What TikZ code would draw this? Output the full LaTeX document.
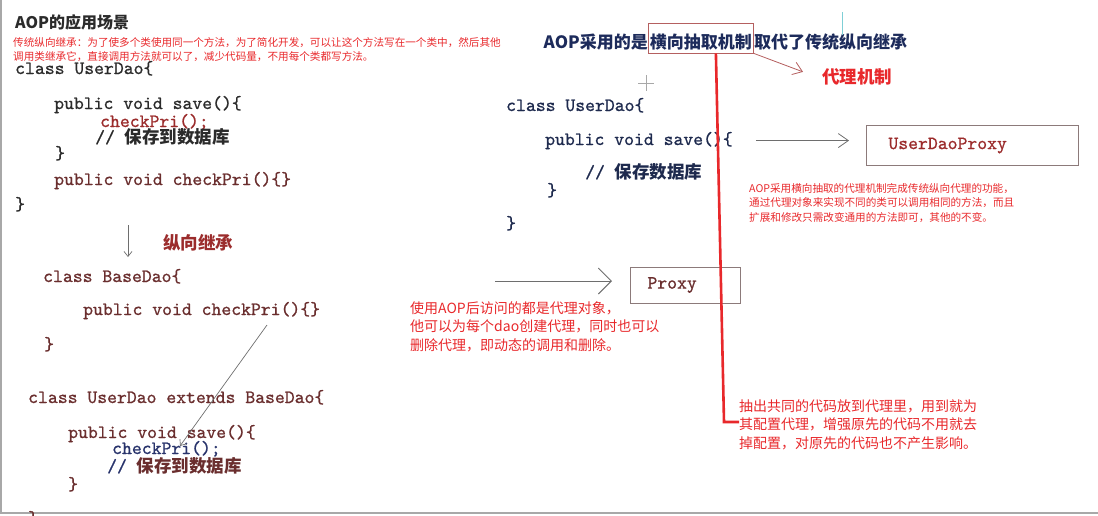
\documentclass[tikz,border=0pt]{standalone}
\usepackage{fontspec}
\usepackage{tikz}
\usetikzlibrary{arrows.meta,positioning}
\setmonofont{lmmono10-regular.otf}[BoldFont=lmmono10-regular.otf,
  BoldFeatures={FakeBold=0.9}]
\newfontfamily\cjk{Noto Sans CJK SC}
\definecolor{ink}{HTML}{2B2B2B}
\definecolor{codered}{HTML}{9B2C2C}
\definecolor{brown}{HTML}{6A2E2E}
\definecolor{navy}{HTML}{28336B}
\definecolor{rnavy}{HTML}{1E2A4E}
\definecolor{titlenavy}{HTML}{1D2B5B}
\definecolor{notered}{HTML}{E8282B}
\definecolor{boxred}{HTML}{B56060}
\definecolor{boxgray}{HTML}{8C7A7A}
\definecolor{arrgray}{HTML}{6E6E6E}
\definecolor{framegray}{HTML}{A8A8A8}
\definecolor{teal}{HTML}{7FCFD6}
\newcommand{\zh}[1]{{\cjk\fontsize{17.5}{20}\selectfont #1}}
\tikzset{
  code/.style={anchor=base west,inner sep=0pt,text=ink,
               font=\fontsize{18.8}{22}\selectfont\ttfamily\bfseries},
  note/.style={anchor=north west,inner sep=0pt,align=left,text=notered,
               font=\cjk\fontsize{10.6}{14.5}\selectfont},
  bignote/.style={note,font=\cjk\fontsize{14}{18.5}\selectfont},
  head/.style={anchor=base west,inner sep=0pt,
               font=\cjk\bfseries\fontsize{17}{20}\selectfont},
  mechbox/.style={draw=boxred,line width=0.8pt,inner xsep=1.5pt,inner ysep=1pt,
                  text height=24.5pt,text depth=3.5pt},
  proxybox/.style={draw=boxgray,line width=0.9pt,anchor=west,align=left,
                   text=codered,font=\fontsize{18.8}{22}\selectfont\ttfamily\bfseries},
  grayarr/.style={-{Straight Barb[length=10pt,width=14pt]},line width=0.8pt,
                  draw=arrgray},
  bigarr/.style={-{Straight Barb[length=13pt,width=26pt]},line width=0.9pt,
                 draw=arrgray},
  smallarr/.style={-{Straight Barb[length=5pt,width=8pt]},line width=0.7pt,
                   draw=arrgray},
  redarr/.style={-{Straight Barb[length=9pt,width=13pt]},line width=0.8pt,
                 draw=boxred},
  redline/.style={line width=2.6pt,draw=notered}
}

\begin{document}
\begin{tikzpicture}[x=1pt,y=-1pt]
  \useasboundingbox (0,0) rectangle (1098,515);
  \clip (0,0) rectangle (1098,515);
  \draw[framegray,line width=1.2pt] (1,0) -- (1,513) -- (1098,513);

  % inheritance, left
  \node[head,text=ink,font=\cjk\bfseries\fontsize{16}{19}\selectfont]
    (title) at (15,28) {AOP的应用场景};
  \node[note] (inhnote) at (13,37)
    {传统纵向继承：为了使多个类使用同一个方法，为了简化开发，可以让这个方法写在一个类中，然后其他\\
     调用类继承它，直接调用方法就可以了，减少代码量，不用每个类都写方法。};

  \node[code] (ucls) at (15,74) {class UserDao\{};
  \node[code] (usave) at (54,109) {public void save()\{};
  \node[code,text=codered] (ucheck) at (100,127) {checkPri();};
  \node[code] (ucomm) at (95,143) {// \zh{保存到数据库}};
  \node[code] (usaveend) at (55,159) {\}};
  \node[code,text=brown] (ucheckdef) at (54,185) {public void checkPri()\{\}};
  \node[code] (uclsend) at (15,210) {\}};

  \coordinate (inhtop) at (128,225);
  \coordinate (inhbot) at (128,257);
  \draw[smallarr] (inhtop) -- (inhbot);
  \node[head,text=codered,font=\cjk\bfseries\fontsize{17.5}{20}\selectfont]
    (inhlbl) at (163,249) {纵向继承};

  \node[code,text=brown] (bcls) at (43,282) {class BaseDao\{};
  \node[code,text=brown] (bcheck) at (83,315) {public void checkPri()\{\}};
  \node[code,text=brown] (bclsend) at (44,350) {\}};
  \node[code,text=brown] (ecls) at (28,403) {class UserDao extends BaseDao\{};
  \node[code,text=brown] (esave) at (68,438) {public void save()\{};
  \node[code,text=navy] (echeck) at (112,454) {checkPri();};
  \node[code,text=brown] (ecomm) at (107,472) {\textcolor{navy}{//} \zh{保存到数据库}};
  \node[code,text=brown] (esaveend) at (68,490) {\}};
  \node[code,text=brown] (eclsend) at (28,524) {\}};

  \coordinate (pick) at (267,325);
  \coordinate (drop) at (180,446);
  \draw[smallarr] (pick) -- (drop);

  % proxy, right
  \node[head,mechbox,text=titlenavy] (mech) at (648,48.5) {横向抽取机制};
  \node[head,anchor=base east,text=titlenavy] (rtitle) at (mech.base west) {AOP采用的是};
  \node[head,text=titlenavy] (rtitle2) at (mech.base east) {取代了传统纵向继承};
  \node[head,text=notered,font=\cjk\bfseries\fontsize{17.5}{20}\selectfont]
    (mechlbl) at (822,83.5) {代理机制};
  \draw[redarr] (mech.south east) -- ([xshift=-19pt,yshift=5pt]mechlbl.west);

  \draw[framegray,line width=1pt] (638,83) -- (654,83) (646,75) -- (646,91);
  \draw[teal,line width=1pt] (842,12) -- (842,35);

  \node[code,text=rnavy] (rcls) at (506,111) {class UserDao\{};
  \node[code,text=rnavy] (rsave) at (545,145) {public void save()\{};
  \node[code,text=rnavy] (rcomm) at (585,178) {// \zh{保存数据库}};
  \node[code,text=rnavy] (rsaveend) at (547,196) {\}};
  \node[code,text=rnavy] (rclsend) at (506,229) {\}};

  \node[proxybox,minimum height=40pt,inner xsep=22pt,text width=168pt]
    (udp) at (866,145.5) {UserDaoProxy};
  \draw[grayarr] ([xshift=23pt]rsave.east) -- ([xshift=-17pt]udp.west |- rsave.east);

  \node[note] (rnote) at (749,183)
    {AOP采用横向抽取的代理机制完成传统纵向代理的功能，\\
     通过代理对象来实现不同的类可以调用相同的方法，而且\\
     扩展和修改只需改变通用的方法即可，其他的不变。};

  \coordinate (pxstart) at (495,281);
  \node[proxybox,text=brown,minimum height=36pt,inner xsep=17pt,text width=76pt]
    (proxy) at (630,285) {Proxy};
  \draw[bigarr] (pxstart) -- ([xshift=-18pt]proxy.west |- pxstart);

  \node[bignote] (aopnote) at (410,301)
    {使用AOP后访问的都是代理对象，\\
     他可以为每个dao创建代理，同时也可以\\
     删除代理，即动态的调用和删除。};

  \node[bignote] (extnote) at (739,399)
    {抽出共同的代码放到代理里，用到就为\\
     其配置代理，增强原先的代码不用就去\\
     掉配置，对原先的代码也不产生影响。};

  \coordinate (bend) at (724,422);
  \draw[redline] ([xshift=15pt]mech.south) -- (bend) -- (bend -| extnote.west);
\end{tikzpicture}
\end{document}
